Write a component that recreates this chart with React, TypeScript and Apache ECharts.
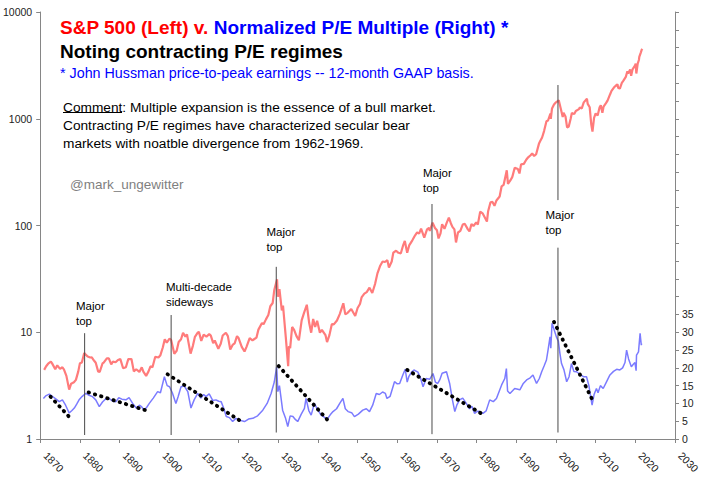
import React, { useEffect, useRef } from "react";
import * as echarts from "echarts";

const FONT = '"Liberation Sans", Arial, Helvetica, sans-serif';

// S&P 500 (left, log scale): [year, index level]
const spx: [number, number][] = [
  [1871.0, 4.44], [1871.5, 4.8], [1872.0, 5.07], [1872.7, 5.3], [1873.0, 5.11], [1873.8, 4.5], [1874.3, 4.9],
  [1875.0, 4.54], [1875.6, 4.7], [1876.0, 4.46], [1876.6, 3.9], [1877.3, 2.9], [1877.8, 3.3], [1878.5, 3.4],
  [1879.0, 3.58], [1879.6, 4.3], [1880.0, 5.11], [1880.5, 5.2], [1881.1, 6.4], [1881.6, 6.1], [1882.0, 5.92],
  [1882.6, 5.8], [1883.0, 5.81], [1883.6, 5.4], [1884.0, 5.18], [1884.6, 4.3], [1885.0, 4.24], [1885.7, 5.1],
  [1886.0, 5.2], [1886.8, 5.7], [1887.3, 5.7], [1887.9, 5.0], [1888.3, 5.3], [1889.0, 5.24], [1889.6, 5.5],
  [1890.2, 5.6], [1890.9, 4.6], [1891.6, 4.7], [1892.2, 5.6], [1893.0, 5.61], [1893.6, 4.3], [1894.2, 4.5],
  [1895.0, 4.25], [1895.6, 4.7], [1896.0, 4.27], [1896.7, 3.9], [1897.3, 4.3], [1897.8, 4.8], [1898.3, 4.7],
  [1899.0, 5.9], [1899.8, 5.8], [1900.3, 6.1], [1900.9, 7.2], [1901.4, 8.6], [1901.9, 8.0], [1902.6, 8.7],
  [1903.0, 8.46], [1903.8, 6.3], [1904.4, 6.7], [1904.9, 8.1], [1905.5, 8.6], [1906.0, 9.9], [1906.6, 9.1],
  [1907.0, 9.56], [1907.9, 6.3], [1908.5, 7.5], [1909.0, 9.06], [1909.7, 9.9], [1910.0, 10.08], [1910.6, 8.3],
  [1911.2, 9.5], [1911.9, 9.1], [1912.6, 9.6], [1913.0, 9.3], [1913.6, 7.9], [1914.0, 8.37], [1914.9, 7.0],
  [1915.5, 7.8], [1916.0, 9.33], [1916.8, 9.9], [1917.3, 9.2], [1917.9, 6.9], [1918.5, 7.6], [1919.0, 7.85],
  [1919.6, 9.2], [1920.0, 8.83], [1920.8, 7.3], [1921.5, 6.6], [1922.0, 7.3], [1922.8, 8.8], [1923.5, 8.4],
  [1923.9, 8.6], [1924.5, 8.9], [1925.0, 10.58], [1925.9, 12.2], [1926.3, 11.9], [1926.9, 13.2], [1927.5, 14.5],
  [1928.0, 17.53], [1928.6, 18.8], [1929.0, 24.86], [1929.7, 31.3], [1929.9, 21.5], [1930.3, 25.4], [1930.9, 16],
  [1931.2, 17.8], [1931.9, 9.0], [1932.5, 4.8], [1932.7, 7.4], [1933.0, 7.09], [1933.5, 11.2], [1934.0, 10.54],
  [1934.6, 9.2], [1935.2, 8.4], [1935.9, 12.9], [1936.5, 15.2], [1937.2, 18.1], [1937.8, 12.2], [1938.3, 9.9],
  [1938.8, 13.3], [1939.3, 11.2], [1939.8, 12.8], [1940.5, 9.9], [1941.0, 10.55], [1941.9, 9.4], [1942.3, 8.1],
  [1942.9, 9.4], [1943.5, 11.9], [1944.0, 11.85], [1944.8, 12.9], [1945.5, 14.8], [1946.4, 18.7], [1946.9, 14.7],
  [1947.5, 15.2], [1948.4, 16.5], [1949.4, 14.2], [1950.0, 16.88], [1950.6, 18.4], [1951.0, 21.21], [1951.7, 23.0],
  [1952.3, 23.8], [1953.0, 26.18], [1953.7, 23.3], [1954.4, 28.3], [1955.0, 35.6], [1955.7, 42.0], [1956.3, 46.0],
  [1956.9, 45.5], [1957.5, 47.4], [1957.9, 40.4], [1958.6, 46], [1959.0, 55.62], [1959.7, 58], [1960.3, 55.5],
  [1960.9, 54.9], [1961.5, 65.6], [1961.9, 71.7], [1962.5, 55.6], [1963.0, 65.06], [1963.8, 72.6], [1964.5, 81],
  [1965.0, 86.12], [1965.5, 84], [1966.0, 93.32], [1966.8, 77.1], [1967.5, 92], [1968.0, 95.04], [1968.2, 89.1],
  [1968.9, 106.5], [1969.5, 94.7], [1970.0, 90.31], [1970.4, 75.6], [1970.9, 84.4], [1971.3, 103], [1971.9, 93],
  [1972.5, 107], [1973.0, 118.4], [1973.5, 105], [1973.9, 97], [1974.4, 92], [1974.8, 69.4], [1975.3, 86],
  [1975.9, 89], [1976.5, 102], [1977.0, 103.8], [1977.8, 92], [1978.2, 88], [1978.7, 103], [1979.2, 99],
  [1979.9, 107], [1980.3, 102], [1980.9, 135], [1981.5, 130], [1982.6, 109], [1982.9, 136], [1983.5, 165],
  [1984.0, 166.4], [1984.5, 153], [1985.0, 171.6], [1985.8, 187], [1986.3, 233], [1986.8, 240], [1987.6, 329],
  [1987.9, 245], [1988.5, 264], [1989.0, 285.4], [1989.6, 347], [1990.4, 338], [1990.8, 307], [1991.2, 374],
  [1991.9, 378], [1992.5, 413], [1993.0, 435.2], [1993.6, 455], [1994.0, 473], [1994.5, 448], [1995.0, 465.25],
  [1995.7, 582], [1996.0, 614.42], [1996.5, 668], [1997.0, 766.22], [1997.6, 947], [1998.0, 963.36], [1998.6, 1120],
  [1998.7, 1000], [1999.0, 1248.77], [1999.5, 1360], [2000.0, 1425.59], [2000.7, 1490], [2001.2, 1250],
  [2001.7, 1040], [2001.9, 1140], [2002.4, 1050], [2002.8, 830], [2003.2, 840], [2003.7, 1000], [2004.0, 1132.52],
  [2004.6, 1105], [2005.0, 1181], [2005.8, 1230], [2006.0, 1278.73], [2006.5, 1250], [2007.0, 1424], [2007.8, 1540],
  [2008.0, 1378.76], [2008.5, 1280], [2008.9, 880], [2009.2, 757], [2009.6, 1020], [2010.0, 1123], [2010.5, 1070],
  [2011.0, 1282], [2011.3, 1340], [2011.7, 1140], [2012.0, 1300], [2012.6, 1400], [2013.0, 1480], [2013.6, 1680],
  [2014.0, 1822], [2014.6, 1960], [2015.0, 2028], [2015.5, 2100], [2015.7, 1940], [2016.1, 1918], [2016.6, 2170],
  [2017.0, 2275], [2017.6, 2470], [2018.0, 2789], [2018.2, 2650], [2018.7, 2900], [2018.95, 2530], [2019.3, 2900],
  [2019.9, 3140], [2020.1, 3280], [2020.25, 2652], [2020.6, 3290], [2020.9, 3550], [2021.0, 3793], [2021.4, 4190],
  [2021.6, 4420], [2021.8, 4500],
];

// Normalized P/E (right axis): [year, multiple]
const pe: [number, number][] = [
  [1870.8, 11.4], [1871.5, 12.2], [1872.3, 12.6], [1873.3, 11.8], [1874.0, 11.2], [1874.8, 10.5], [1875.6, 11.0],
  [1876.4, 9.5], [1877.3, 7.3], [1878.0, 8.0], [1878.6, 8.7], [1879.2, 9.8], [1879.8, 11.0], [1880.6, 12.0],
  [1881.5, 12.8], [1882.3, 12.3], [1883.2, 11.9], [1884.0, 11.0], [1884.9, 9.1], [1885.7, 10.4], [1886.6, 11.4],
  [1887.5, 11.3], [1888.3, 10.6], [1889.1, 10.5], [1889.8, 11.6], [1890.6, 11.2], [1891.6, 11.0], [1892.4, 11.6],
  [1893.3, 10.0], [1894.2, 8.7], [1895.0, 9.5], [1895.6, 9.0], [1896.2, 8.1], [1896.9, 9.0], [1897.5, 10.0],
  [1898.5, 11.5], [1899.6, 13.3], [1900.3, 13.0], [1901.3, 17.5], [1902.0, 15.0], [1902.6, 14.7], [1903.3, 13.0],
  [1904.2, 10.0], [1904.8, 12.0], [1905.5, 14.7], [1906.3, 14.9], [1907.2, 13.3], [1908.0, 8.7], [1908.8, 11.0],
  [1909.7, 12.8], [1910.5, 11.5], [1911.2, 12.5], [1911.8, 11.9], [1912.6, 12.7], [1913.5, 10.8], [1914.3, 11.0],
  [1915.0, 10.6], [1915.6, 10.5], [1916.3, 8.5], [1916.9, 6.3], [1917.7, 6.0], [1918.5, 4.9], [1919.3, 5.8],
  [1920.2, 5.3], [1921.5, 4.9], [1922.5, 5.6], [1923.6, 5.8], [1924.8, 6.5], [1926.1, 8.1], [1927.2, 10.0],
  [1928.2, 12.8], [1929.0, 16.0], [1929.6, 20.3], [1929.9, 13.3], [1930.3, 15.0], [1931.1, 8.1], [1931.8, 6.0],
  [1932.4, 3.5], [1933.0, 6.5], [1933.7, 6.3], [1934.3, 5.5], [1934.9, 4.9], [1935.8, 7.0], [1936.6, 8.6],
  [1937.0, 11.4], [1937.7, 8.0], [1938.3, 6.7], [1939.1, 10.0], [1939.8, 8.5], [1940.8, 6.7], [1941.5, 6.2],
  [1942.3, 5.5], [1943.1, 6.8], [1943.8, 7.7], [1944.7, 8.5], [1945.5, 10.0], [1946.3, 11.4], [1946.9, 8.5],
  [1947.6, 7.7], [1948.5, 7.4], [1949.2, 6.3], [1950.2, 7.0], [1951.3, 8.1], [1952.2, 8.5], [1953.0, 7.7],
  [1953.8, 9.5], [1954.7, 12.8], [1955.5, 12.5], [1956.3, 13.2], [1957.0, 12.8], [1957.4, 11.4], [1958.2, 12.0],
  [1959.3, 16.1], [1960.0, 15.5], [1960.6, 15.6], [1961.4, 18.0], [1962.0, 19.6], [1962.5, 16.0], [1962.9, 17.5],
  [1963.6, 18.8], [1964.2, 19.4], [1965.2, 18.8], [1965.9, 17.0], [1966.5, 14.7], [1967.3, 17.0], [1968.2, 16.8],
  [1969.0, 18.4], [1969.6, 16.0], [1970.2, 15.6], [1970.7, 16.6], [1971.3, 18.5], [1972.4, 18.9], [1973.2, 15.6],
  [1973.9, 11.0], [1974.5, 7.7], [1975.0, 9.5], [1975.7, 11.0], [1976.5, 11.5], [1977.4, 10.0], [1978.2, 8.5],
  [1978.8, 9.2], [1979.5, 7.2], [1980.2, 7.8], [1980.8, 7.7], [1981.6, 7.2], [1982.4, 7.9], [1983.3, 11.0],
  [1984.2, 10.5], [1985.0, 11.4], [1986.3, 15.2], [1987.1, 17.0], [1987.5, 19.8], [1987.8, 13.5], [1988.4, 12.8],
  [1989.6, 14.2], [1990.4, 14.0], [1990.9, 13.8], [1991.7, 15.5], [1992.6, 16.6], [1993.5, 17.2], [1994.2, 18.0],
  [1995.1, 15.6], [1995.8, 17.0], [1996.4, 18.9], [1997.0, 20.5], [1997.6, 22.2], [1998.0, 25.0], [1998.5, 28.7],
  [1998.7, 25.5], [1999.0, 32.5], [1999.6, 30.5], [2000.1, 28.7], [2000.6, 27.5], [2001.0, 24.0], [2001.4, 21.2],
  [2002.0, 19.5], [2002.7, 16.1], [2003.3, 17.5], [2003.9, 21.2], [2004.5, 19.0], [2005.2, 18.9], [2006.0, 18.2],
  [2006.9, 17.5], [2007.7, 17.5], [2008.3, 15.0], [2008.8, 11.5], [2009.1, 9.5], [2009.6, 12.5], [2010.2, 14.2],
  [2010.6, 13.0], [2011.2, 15.0], [2011.9, 14.2], [2012.7, 16.0], [2013.6, 18.0], [2014.5, 19.0], [2015.3, 19.6],
  [2016.1, 19.4], [2016.8, 20.0], [2017.4, 21.5], [2017.8, 25.0], [2018.3, 22.5], [2019.0, 20.3], [2019.5, 21.0],
  [2019.9, 21.5], [2020.2, 19.2], [2020.3, 23.6], [2020.8, 24.5], [2021.2, 29.7], [2021.5, 26.4], [2021.6, 26.8],
];

// Contracting P/E regimes (dotted trend lines, right axis)
const peTrends: [number, number][][] = [
  [[1872.6, 11.9], [1877.9, 5.5]],
  [[1882.2, 13.1], [1896.5, 8.1]],
  [[1902.1, 18.2], [1921.3, 4.5]],
  [[1930.1, 20.5], [1942.3, 5.5]],
  [[1962.5, 19.4], [1981.9, 6.7]],
  [[1999.5, 32.9], [2009.4, 10.5]],
];

// Vertical marker lines (left log axis): [year, value]
const markerLines: [number, number][][] = [
  [[1881.2, 1.09], [1881.2, 9.8]],
  [[1903.0, 1.09], [1903.0, 14.5]],
  [[1929.5, 1.15], [1929.5, 41]],
  [[1968.75, 1.11], [1968.75, 159]],
  [[2000.5, 1.15], [2000.5, 62]],
  [[2000.5, 173], [2000.5, 2070]],
];

const xTickYears = { min: 1870, max: 2030, step: 10 };
const peLabelMax = 35;

export default function App() {
  const ref = useRef<HTMLDivElement>(null);

  useEffect(() => {
    if (!ref.current) return;
    const chart = echarts.init(ref.current, undefined, { renderer: "svg" });

    const axisLabelStyle = { color: "#222", fontSize: 10.5, fontFamily: FONT };

    const series: any[] = [
      {
        type: "line",
        name: "S&P 500",
        xAxisIndex: 0,
        yAxisIndex: 0,
        data: spx,
        showSymbol: false,
        lineStyle: { color: "#ff7b7b", width: 2.2 },
        z: 3,
      },
      {
        type: "line",
        name: "P/E",
        xAxisIndex: 0,
        yAxisIndex: 1,
        data: pe,
        showSymbol: false,
        lineStyle: { color: "#7b7bff", width: 1.5 },
        z: 3,
      },
    ];
    peTrends.forEach((seg) => {
      series.push({
        type: "line",
        yAxisIndex: 1,
        data: seg,
        showSymbol: false,
        lineStyle: { color: "#000", width: 3.8, type: [0.5, 6], cap: "round" },
        z: 5,
      });
    });
    markerLines.forEach((seg) => {
      series.push({
        type: "line",
        yAxisIndex: 0,
        data: seg,
        showSymbol: false,
        lineStyle: { color: "#4a4a4a", width: 1 },
        z: 4,
      });
    });

    const txt = (x: number, y: number, text: string, size: number, color: string, bold = false) => ({
      type: "text",
      x,
      y,
      style: {
        text,
        fill: color,
        fontSize: size,
        fontWeight: bold ? "bold" : "normal",
        fontFamily: FONT,
        verticalAlign: "middle",
        align: "left",
      },
      z: 10,
    });

    const graphics: any[] = [
      {
        type: "text",
        x: 60,
        y: 27,
        style: {
          text: "{r|S&P 500 (Left) v. }{b|Normalized P/E Multiple (Right) *}",
          verticalAlign: "middle",
          fontFamily: FONT,
          rich: {
            r: { fill: "#ff0000", fontSize: 19, fontWeight: "bold", fontFamily: FONT },
            b: { fill: "#0000ff", fontSize: 19, fontWeight: "bold", fontFamily: FONT },
          },
        },
        z: 10,
      },
      txt(60, 51.5, "Noting contracting P/E regimes", 19, "#000", true),
      txt(60, 72.5, "* John Hussman price-to-peak earnings -- 12-month GAAP basis.", 14.3, "#0000ff"),
      txt(63, 107, "Comment: Multiple expansion is the essence of a bull market.", 13.7, "#000"),
      txt(63, 125, "Contracting P/E regimes have characterized secular bear", 13.7, "#000"),
      txt(63, 143, "markets with noatble divergence from 1962-1969.", 13.7, "#000"),
      { type: "line", shape: { x1: 63, y1: 112.5, x2: 122, y2: 112.5 }, style: { stroke: "#000", lineWidth: 1 }, z: 10 },
      txt(70, 184.5, "@mark_ungewitter", 13.5, "#7f7f7f"),
      txt(76, 305.5, "Major", 11.5, "#000"),
      txt(76, 320.5, "top", 11.5, "#000"),
      txt(166, 286.5, "Multi-decade", 11.5, "#000"),
      txt(166, 301.5, "sideways", 11.5, "#000"),
      txt(266.5, 231.5, "Major", 11.5, "#000"),
      txt(266.5, 246.5, "top", 11.5, "#000"),
      txt(423, 172.5, "Major", 11.5, "#000"),
      txt(423, 187.5, "top", 11.5, "#000"),
      txt(545.5, 215, "Major", 11.5, "#000"),
      txt(545.5, 230, "top", 11.5, "#000"),
    ];

    chart.setOption({
      animation: false,
      backgroundColor: "#fff",
      textStyle: { fontFamily: FONT },
      grid: { left: 40, right: 37, top: 12, bottom: 43, containLabel: false },
      xAxis: {
        type: "value",
        min: xTickYears.min,
        max: xTickYears.max,
        interval: xTickYears.step,
        splitLine: { show: false },
        axisLine: { lineStyle: { color: "#868686", width: 1 } },
        axisTick: { show: true, length: 4, lineStyle: { color: "#868686" } },
        axisLabel: {
          ...axisLabelStyle,
          rotate: -45,
          margin: 10,
          padding: [0, 0, 0, 7],
          formatter: (v: number) => String(v),
        },
      },
      yAxis: [
        {
          type: "log",
          logBase: 10,
          min: 1,
          max: 10000,
          position: "left",
          splitLine: { show: false },
          axisLine: { show: true, lineStyle: { color: "#868686", width: 1 } },
          axisTick: { show: true, length: 4, lineStyle: { color: "#868686" } },
          axisLabel: { ...axisLabelStyle, margin: 8, formatter: (v: number) => String(v) },
        },
        {
          type: "value",
          min: 0,
          max: 120,
          interval: 5,
          position: "right",
          splitLine: { show: false },
          axisLine: { show: true, lineStyle: { color: "#868686", width: 1 } },
          axisTick: { show: true, length: 4, lineStyle: { color: "#868686" } },
          axisLabel: {
            ...axisLabelStyle,
            margin: 7,
            formatter: (v: number) => (v <= peLabelMax ? String(v) : ""),
          },
        },
      ],
      series,
      graphic: graphics,
    });

    return () => chart.dispose();
  }, []);

  return (
    <div
      ref={ref}
      style={{ position: "absolute", left: 0, top: 0, width: 712, height: 482, background: "#fff" }}
    />
  );
}
